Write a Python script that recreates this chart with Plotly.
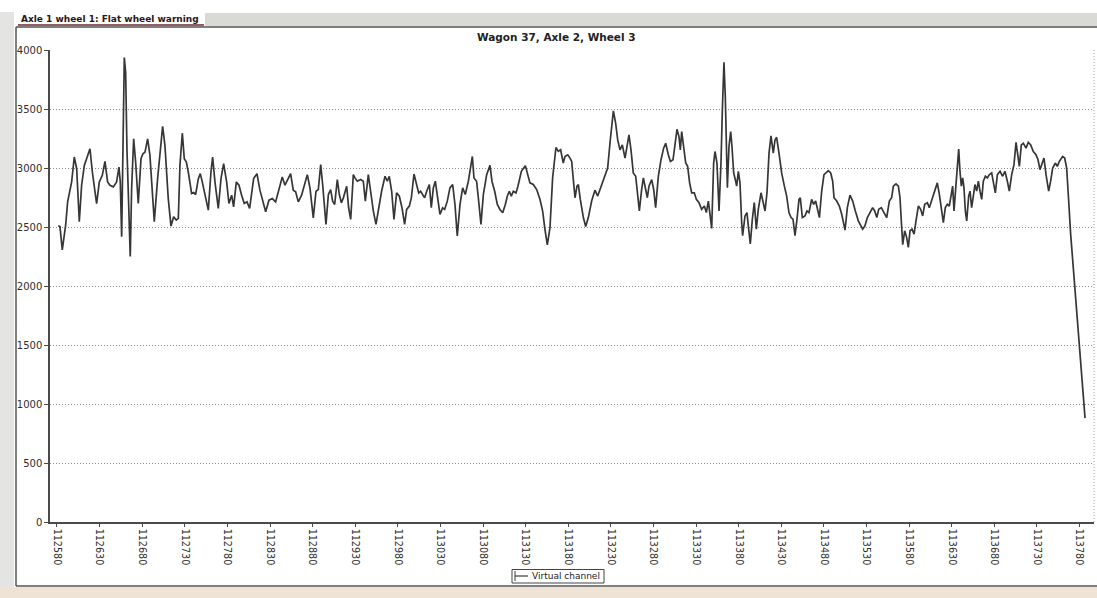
import plotly.graph_objects as go

# Sample position (x) and measured value of the virtual channel
sample_pos = [
    112581.5, 112583.5, 112586.2, 112590.2, 112592.5, 112595.2, 112597.2, 112600.3, 112603.1, 112606.2,
    112608.9, 112612.1, 112618.7, 112621.5, 112626.5, 112629.7, 112633.2, 112636.3, 112639.4, 112642.2,
    112646.1, 112650.0, 112652.7, 112654.3, 112655.9, 112659.0, 112660.6, 112662.1, 112666.0, 112667.6,
    112670.0, 112672.3, 112675.4, 112678.6, 112680.9, 112683.3, 112686.4, 112689.1, 112694.2, 112698.1,
    112704.0, 112706.7, 112710.6, 112713.8, 112716.9, 112720.0, 112722.4, 112724.3, 112727.1, 112729.4,
    112731.8, 112734.1, 112738.0, 112740.4, 112742.7, 112745.9, 112748.2, 112750.5, 112757.6, 112760.7,
    112762.7, 112765.4, 112769.3, 112772.5, 112775.6, 112779.1, 112781.8, 112785.0, 112787.3, 112790.5,
    112793.6, 112796.7, 112799.8, 112803.0, 112806.1, 112810.8, 112814.7, 112818.2, 112820.9, 112824.9,
    112828.8, 112832.7, 112836.6, 112839.7, 112844.4, 112847.6, 112854.2, 112857.3, 112860.1, 112863.2,
    112867.1,
    112873.8, 112876.9, 112880.8, 112884.0, 112886.7, 112889.5, 112891.8, 112895.7, 112898.5, 112901.2,
    112903.5, 112905.9, 112909.0, 112911.4, 112913.7, 112916.1, 112920.0, 112922.3, 112924.7, 112927.8,
    112929.7, 112932.5, 112936.4, 112939.5, 112941.9, 112945.4, 112948.1, 112951.3, 112954.4, 112957.5,
    112961.0, 112965.0, 112967.7, 112970.0, 112972.8, 112975.5, 112978.6, 112981.8, 112984.9, 112988.0,
    112990.4, 112993.5, 112995.9, 112999.0, 113002.1, 113004.5, 113006.8, 113009.2, 113011.5, 113013.9,
    113017.0, 113019.3, 113021.7, 113024.0, 113027.2, 113029.5, 113032.6, 113035.0, 113038.1, 113041.2,
    113044.4, 113047.1, 113049.8, 113053.0, 113056.1, 113059.2, 113062.8, 113067.5, 113069.4, 113072.5,
    113074.9, 113077.6, 113080.4, 113084.3, 113088.2, 113090.5, 113093.7, 113096.8, 113099.9, 113103.1,
    113106.2, 113108.5, 113110.9, 113113.2, 113115.6, 113118.7, 113121.0, 113125.0, 113129.7, 113132.8,
    113135.1, 113139.0, 113143.0, 113146.9, 113150.0, 113152.7, 113155.5, 113158.6, 113161.7, 113165.6,
    113168.4, 113171.1, 113174.2,
    113176.2, 113179.4, 113182.1, 113184.1, 113186.0, 113188.0, 113190.3, 113191.9, 113194.2, 113197.8,
    113200.5, 113203.6, 113207.5, 113211.4, 113214.6, 113218.5, 113223.2, 113226.3, 113229.0, 113233.0,
    113235.7, 113238.1, 113240.8, 113243.5, 113246.7, 113248.6, 113251.3, 113253.7, 113256.4, 113259.2,
    113261.5, 113263.5, 113266.2, 113268.2, 113270.9, 113272.9, 113274.8, 113278.0, 113280.3, 113282.6,
    113285.8, 113288.9, 113292.0, 113294.4, 113297.5, 113299.9, 113303.0, 113305.3, 113307.7, 113310.0,
    113311.6, 113313.2, 113315.5, 113317.9, 113320.2, 113322.5, 113324.9, 113328.0, 113330.4, 113333.5,
    113336.6, 113339.8, 113342.1, 113344.5, 113348.4, 113350.7, 113352.3, 113354.6, 113357.0, 113359.3,
    113360.9, 113362.8, 113364.4, 113365.6, 113366.8, 113368.7, 113370.7, 113372.2, 113374.2, 113376.1,
    113377.7, 113379.7, 113381.6, 113383.6, 113384.7, 113387.5, 113389.8, 113391.4, 113393.7, 113396.1,
    113398.4, 113400.8, 113403.1, 113406.3, 113408.6, 113411.0, 113413.3, 113415.7, 113418.0, 113420.7,
    113422.7, 113424.6, 113427.4, 113430.5, 113433.7, 113436.4, 113439.1, 113441.5, 113443.8, 113446.2,
    113448.5, 113450.9, 113452.4, 113454.8, 113457.9, 113460.2, 113462.6, 113465.7, 113468.1, 113470.4,
    113474.8, 113477.5, 113480.2, 113485.3, 113488.1, 113490.4, 113492.0, 113495.1, 113498.2, 113501.0,
    113504.9, 113507.6, 113510.7, 113513.9, 113517.0, 113520.5, 113525.6, 113528.3, 113531.1, 113534.2,
    113537.3, 113539.7, 113542.2, 113544.4, 113547.5, 113550.6, 113553.8, 113556.9, 113559.6, 113561.6,
    113564.7, 113567.5, 113569.4, 113571.4, 113572.6, 113574.9, 113577.2, 113579.2, 113581.2, 113583.5,
    113585.9, 113588.2, 113591.0, 113593.7, 113596.0, 113598.4, 113601.5, 113603.8, 113607.0, 113610.1,
    113613.2, 113615.6, 113617.9, 113620.3, 113622.6, 113625.0, 113627.3, 113629.7, 113631.2, 113632.8,
    113634.4, 113635.9, 113638.3, 113639.8, 113641.4, 113643.0, 113644.5, 113646.1, 113647.7, 113650.0,
    113651.6, 113653.5, 113655.5, 113657.4, 113659.4, 113661.4, 113663.3, 113665.3, 113667.2, 113669.6,
    113671.9, 113674.3, 113677.0, 113679.0, 113681.3, 113683.7, 113686.8, 113689.9, 113692.6, 113695.4,
    113697.7, 113700.5, 113703.2, 113705.6, 113707.9, 113709.5, 113711.8, 113714.2, 113717.3, 113720.0,
    113722.8, 113725.9, 113729.0, 113731.4, 113733.7, 113736.1, 113738.4, 113740.8, 113743.9, 113746.2,
    113748.6, 113751.7, 113754.1, 113756.4, 113760.3, 113762.7, 113765.0, 113767.4, 113769.7, 113786.6,
]

channel_value = [
    2511, 2503, 2306, 2517, 2713, 2812, 2882, 3093, 2994, 2545,
    2854, 3022, 3163, 2966, 2699, 2882, 2938, 3056, 2882, 2854,
    2840, 2882, 3008, 2882, 2418, 3936, 3809, 3163, 2250, 2826,
    3247, 3051, 2699, 3079, 3121, 3135, 3247, 3107, 2545, 2910,
    3354, 3191, 2741, 2508, 2587, 2559, 2573, 3022, 3295, 3079,
    3051, 2966, 2784, 2792, 2775, 2910, 2952, 2882, 2643, 2966,
    3093, 2882, 2657, 2910, 3037, 2882, 2699, 2770, 2671, 2882,
    2854, 2770, 2699, 2713, 2657, 2910, 2952, 2812, 2741, 2629,
    2727, 2741, 2713, 2798, 2924, 2854, 2952, 2812, 2798, 2713,
    2770,
    2944, 2831, 2578, 2803, 2817, 3028, 2860, 2522, 2775, 2817,
    2719, 2691, 2902, 2775, 2705, 2747, 2845, 2663, 2564, 2944,
    2916, 2888, 2902, 2888, 2719, 2944, 2803, 2635, 2522, 2663,
    2803, 2930, 2888, 2930, 2803, 2564, 2789, 2761, 2663, 2522,
    2649, 2677, 2747, 2949, 2860, 2789, 2803, 2775, 2747, 2803,
    2860, 2663, 2831, 2888, 2719, 2607, 2663, 2649, 2719, 2831,
    2860, 2691, 2424, 2691, 2831, 2775, 2888, 3098, 2916, 2888,
    2719, 2522, 2775, 2944, 3022, 2888, 2803, 2691, 2649, 2621,
    2691, 2761, 2803, 2761, 2803, 2789, 2845, 2972, 3020, 2944,
    2874, 2860, 2817, 2733, 2635, 2480, 2348, 2494, 2916, 3174,
    3141, 3155, 3042,
    3098, 3112, 3084, 3056, 2902, 2748, 2846, 2860, 2734, 2580,
    2504, 2580, 2720, 2812, 2762, 2846, 2944, 3000, 3210, 3484,
    3378, 3238, 3154, 3196, 3084, 3168, 3280, 3154, 2958, 2930,
    2790, 2636, 2818, 2916, 2818, 2748, 2846, 2902, 2818, 2664,
    2930, 3070, 3168, 3210, 3112, 3056, 3070, 3210, 3328, 3266,
    3154, 3308, 3154, 3042, 3014, 2874, 2790, 2790, 2734, 2706,
    2650, 2678, 2622, 2720, 2488, 3042, 3140, 3042, 2636, 3042,
    3490, 3896, 3602, 3042, 2832, 3182, 3308, 3182, 2958, 2902,
    2846, 2972, 2874, 2538, 2426, 2594, 2622, 2510, 2356, 2566,
    2706, 2482, 2650, 2790, 2720, 2636, 2790, 3126, 3272, 3126,
    3238, 3260, 3126, 2958, 2846, 2762, 2622, 2580, 2566, 2426,
    2566, 2734, 2748, 2580, 2594, 2636, 2622, 2734, 2692, 2720,
    2580, 2804, 2944, 2978, 2958, 2888, 2748, 2720, 2678, 2608,
    2474, 2664, 2770, 2720, 2636, 2552, 2482, 2510, 2580, 2622,
    2664, 2636, 2580, 2650, 2664, 2622, 2580, 2720, 2748, 2846,
    2866, 2846, 2748, 2496, 2350, 2468, 2412, 2328, 2468, 2482,
    2440, 2552, 2678, 2650, 2594, 2692, 2706, 2664, 2734, 2804,
    2874, 2776, 2636, 2538, 2664, 2692, 2678, 2804, 2846, 2636,
    2804, 2944, 3160, 2972, 2846, 2916, 2832, 2636, 2552, 2762,
    2804, 2664, 2776, 2860, 2804, 2888, 2804, 2734, 2888, 2930,
    2916, 2944, 2958, 2888, 2790, 2944, 2972, 2930, 2972, 2888,
    2804, 2944, 3028, 3218, 3112, 3014, 3196, 3210, 3168, 3218,
    3196, 3140, 3112, 3070, 2986, 3028, 3084, 2944, 2804, 2888,
    3000, 3042, 3014, 3056, 3098, 3084, 3000, 2720, 2440, 880,
]

x_ticks = list(range(112580, 113781, 50))
y_ticks = list(range(0, 4001, 500))

chart_title = "Wagon 37, Axle 2, Wheel 3"
tab_title = "Axle 1 wheel 1: Flat wheel warning"
series_name = "Virtual channel"

W, H = 1097, 598
L, R, T, B = 50, 3, 50, 76
PW, PH = W - L - R, H - T - B


def fx(px):
    return (px - L) / PW


def fy(py):
    return (H - B - py) / PH


FONT = "DejaVu Sans"
AXIS = "#4a4a4a"

fig = go.Figure()
fig.add_trace(go.Scatter(
    x=sample_pos, y=channel_value, mode="lines", name=series_name,
    line=dict(color="#363636", width=1.7), showlegend=False,
))

shapes = []
# window chrome around the chart panel
shapes.append(dict(type="rect", xref="paper", yref="paper", x0=fx(0), x1=fx(14), y0=fy(598), y1=fy(12),
                   fillcolor="#e4e4e2", line=dict(width=0), layer="below"))
shapes.append(dict(type="rect", xref="paper", yref="paper", x0=fx(0), x1=fx(1097), y0=fy(598), y1=fy(587),
                   fillcolor="#efe3d6", line=dict(width=0), layer="below"))
shapes.append(dict(type="rect", xref="paper", yref="paper", x0=fx(205), x1=fx(1097), y0=fy(26), y1=fy(13),
                   fillcolor="#d9dad3", line=dict(width=0), layer="below"))
shapes.append(dict(type="line", xref="paper", yref="paper", x0=fx(16), x1=fx(1097), y0=fy(27), y1=fy(27),
                   line=dict(color="#555555", width=1.5)))
shapes.append(dict(type="line", xref="paper", yref="paper", x0=fx(18), x1=fx(204), y0=fy(25), y1=fy(25),
                   line=dict(color="#6b2a2a", width=1.5)))
shapes.append(dict(type="line", xref="paper", yref="paper", x0=fx(16), x1=fx(16), y0=fy(586), y1=fy(27),
                   line=dict(color="#555555", width=1.5)))
shapes.append(dict(type="line", xref="paper", yref="paper", x0=fx(16), x1=fx(1097), y0=fy(586), y1=fy(586),
                   line=dict(color="#555555", width=1.5)))
# dotted right edge of the plot area
shapes.append(dict(type="line", xref="paper", yref="paper", x0=1, x1=1, y0=0, y1=1,
                   line=dict(color="#9a9a9a", width=1, dash="1px,2px")))
# legend box and its line sample
shapes.append(dict(type="rect", xref="paper", yref="paper", x0=fx(512), x1=fx(604), y0=fy(583), y1=fy(569.5),
                   fillcolor="white", line=dict(color="#444444", width=1)))
shapes.append(dict(type="line", xref="paper", yref="paper", x0=fx(515), x1=fx(528), y0=fy(576), y1=fy(576),
                   line=dict(color="#3b3b3b", width=1.2)))
shapes.append(dict(type="line", xref="paper", yref="paper", x0=fx(515), x1=fx(515), y0=fy(581), y1=fy(571),
                   line=dict(color="#3b3b3b", width=1)))

annotations = [
    dict(text="<b>" + tab_title + "</b>", xref="paper", yref="paper", x=fx(19), y=fy(19),
         xanchor="left", yanchor="middle", showarrow=False,
         font=dict(family=FONT, size=9, color="#2a1515")),
    dict(text="<b>" + chart_title + "</b>", xref="paper", yref="paper", x=fx(556), y=fy(37),
         xanchor="center", yanchor="middle", showarrow=False,
         font=dict(family=FONT, size=10.5, color="#222222")),
    dict(text=series_name, xref="paper", yref="paper", x=fx(530), y=fy(576),
         xanchor="left", yanchor="middle", showarrow=False,
         font=dict(family=FONT, size=9, color="#222222")),
]

fig.update_layout(
    width=W, height=H,
    margin=dict(l=L, r=R, t=T, b=B, pad=0),
    paper_bgcolor="white", plot_bgcolor="white",
    shapes=shapes, annotations=annotations,
    showlegend=False,
    font=dict(family=FONT, size=10, color="#333333"),
    xaxis=dict(
        range=[112571.8, 113797.1], tickvals=x_ticks, ticktext=[str(v) for v in x_ticks],
        tickangle=90, ticks="outside", ticklen=3, tickcolor=AXIS,
        showline=True, linecolor=AXIS, linewidth=1.5, showgrid=False, zeroline=False,
        tickfont=dict(family=FONT, size=9.6, color="#2e2e2e"),
    ),
    yaxis=dict(
        range=[0, 4000], tickvals=y_ticks, ticks="outside", ticklen=4, tickcolor=AXIS,
        showline=True, linecolor=AXIS, linewidth=1.5,
        showgrid=True, gridcolor="#8f8f8f", gridwidth=1, griddash="1px,2px", zeroline=False,
        tickfont=dict(family=FONT, size=10, color="#2e2e2e"),
    ),
)

fig.write_html("out.html")
